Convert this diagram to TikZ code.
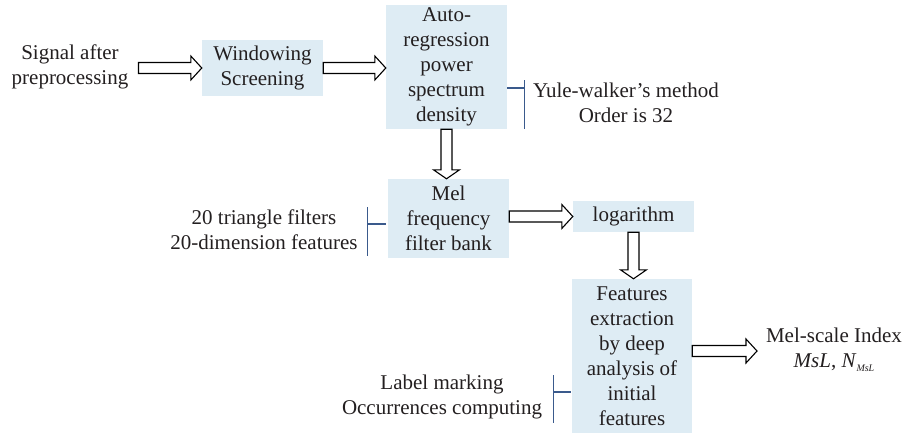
\documentclass[tikz,border=0pt]{standalone}
\usepackage{fontspec}
\setmainfont{Liberation Serif}
\usetikzlibrary{calc}
\definecolor{boxfill}{HTML}{DEECF4}
\definecolor{brkcol}{HTML}{3A5A8C}
\definecolor{txtcol}{HTML}{231F20}
\tikzset{
  lbl/.style={font=\fontsize{21}{25}\selectfont, text=txtcol, align=center, inner sep=0pt},
  procbox/.style={lbl, fill=boxfill, draw=none},
  blockarr/.style={draw=black, fill=white, line width=1.1pt, line join=miter},
  bracketline/.style={draw=brkcol, line width=1.2pt},
}
\newcommand\HBlockArrow[2]{\draw[blockarr] let \p1=(#1), \p2=(#2) in
  (\x1,\y1+5.5pt) -- (\x2-11pt,\y1+5.5pt) -- (\x2-11pt,\y1+12pt) -- (\x2,\y1)
  -- (\x2-11pt,\y1-12pt) -- (\x2-11pt,\y1-5.5pt) -- (\x1,\y1-5.5pt) -- cycle;}
\newcommand\VBlockArrow[2]{\draw[blockarr] let \p1=(#1), \p2=(#2) in
  (\x1-5.5pt,\y1) -- (\x1-5.5pt,\y2+9pt) -- (\x1-13pt,\y2+9pt) -- (\x1,\y2)
  -- (\x1+13pt,\y2+9pt) -- (\x1+5.5pt,\y2+9pt) -- (\x1+5.5pt,\y1) -- cycle;}
\begin{document}
\begin{tikzpicture}[x=1pt,y=-1pt]
\useasboundingbox (0,0) rectangle (903,434);
% text labels
\node[lbl] (sig) at (70,67) {Signal after\\preprocessing};
\node[lbl] (yule) at (626,103) {Yule-walker’s method\\Order is 32};
\node[lbl] (tri) at (264,229.5) {20 triangle filters\\20-dimension features};
\node[lbl] (lab) at (442,396.5) {Label marking\\Occurrences computing};
\node[lbl] (msi) at (834,350) {Mel-scale Index\\\textit{MsL}, \textit{N}\raisebox{-0.45ex}{\fontsize{10}{10}\selectfont\itshape MsL}};
% boxes
\node[procbox, minimum width=121pt, minimum height=56pt] (win) at (262.5,68) {Windowing\\Screening};
\node[procbox, minimum width=121pt, minimum height=124pt] (ar) at (446.5,67) {Auto-\\regression\\power\\spectrum\\density};
\node[procbox, minimum width=121pt, minimum height=79pt] (mel) at (448.5,218.5) {Mel\\frequency\\filter bank};
\node[procbox, minimum width=121pt, minimum height=31pt] (log) at (633.5,216.5) {logarithm};
\node[procbox, minimum width=120pt, minimum height=154pt] (feat) at (632,356) {Features\\extraction\\by deep\\analysis of\\initial\\features};
% block arrows
\coordinate (a1s) at ($(sig.east)+(10,0)$);
\HBlockArrow{a1s |- win.west}{win.west}
\HBlockArrow{win.east}{ar.west |- win.east}
\VBlockArrow{ar.south}{ar.south |- mel.north}
\HBlockArrow{mel.east |- log.west}{log.west}
\VBlockArrow{log.south}{log.south |- feat.north}
\coordinate (a6e) at (757,351);
\HBlockArrow{feat.east |- a6e}{a6e}
% brackets
\coordinate (b1) at ($(ar.east)+(17,21)$);
\draw[bracketline] (ar.east |- b1) -- (b1);
\draw[bracketline] ($(b1)+(0,-8)$) -- (b1 |- ar.south);
\coordinate (b2) at ($(mel.west)+(-20,5.5)$);
\draw[bracketline] ($(mel.west)+(-2,5.5)$) -- (b2);
\draw[bracketline] ($(b2)+(0,-17)$) -- ($(b2)+(0,32)$);
\coordinate (b3) at ($(feat.west)+(-18,36)$);
\draw[bracketline] ($(feat.west)+(-1,36)$) -- (b3);
\draw[bracketline] ($(b3)+(0,-17)$) -- ($(b3)+(0,31)$);
\end{tikzpicture}
\end{document}
